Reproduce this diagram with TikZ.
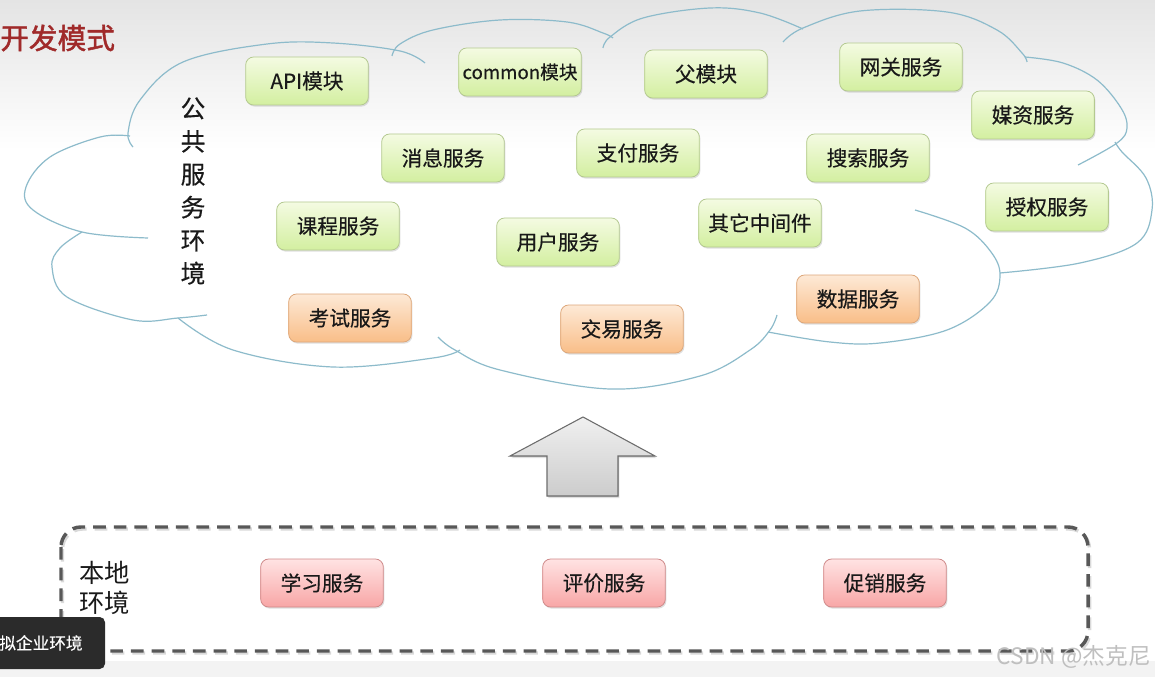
\documentclass[tikz,border=0pt]{standalone}
\usepackage{fontspec}
\setmainfont{Noto Sans CJK SC}
\newfontfamily\titlefont[FakeBold=1.6]{Noto Sans CJK SC}
\newfontfamily\boxfont[FakeBold=0.4]{Noto Sans CJK SC}
\usetikzlibrary{shadows}
\definecolor{bgtop}{HTML}{E4E4E4}
\definecolor{bgbot}{HTML}{F3F3F3}
\definecolor{titlered}{HTML}{A02A2A}
\definecolor{cloudc}{HTML}{8DBBCB}
\definecolor{gtop}{HTML}{F4FBE2}
\definecolor{gbot}{HTML}{D3EFA0}
\definecolor{gborder}{HTML}{B4C990}
\definecolor{otop}{HTML}{FDE9D6}
\definecolor{obot}{HTML}{F9BE88}
\definecolor{oborder}{HTML}{DDA77A}
\definecolor{ptop}{HTML}{FFE3E3}
\definecolor{pbot}{HTML}{F8A6A6}
\definecolor{pborder}{HTML}{CF8A8A}
\definecolor{darklabel}{HTML}{2B2B2B}
\definecolor{dashc}{HTML}{585858}
\definecolor{arrowborder}{HTML}{6E6E6E}
\tikzset{
  svcbox/.style={rounded corners=6pt, minimum width=92pt, minimum height=36pt, inner sep=0pt,
    line width=0.6pt, text=black!90, font=\boxfont\fontsize{15.5pt}{17pt}\selectfont,
    drop shadow={opacity=0.25, shadow xshift=0.8pt, shadow yshift=-1.2pt}},
  gbox/.style={svcbox, draw=gborder, top color=gtop, bottom color=gbot},
  obox/.style={svcbox, draw=oborder, top color=otop, bottom color=obot},
  pbox/.style={svcbox, draw=pborder, top color=ptop, bottom color=pbot},
  cloudline/.style={draw=cloudc, line width=0.9pt},
  lobe/.style={smooth, tension=0.6},
  dashbox/.style={line width=2.6pt, dash pattern=on 9.5pt off 6pt, rounded corners=15pt},
}
\begin{document}
\begin{tikzpicture}[x=0.75pt,y=-0.75pt]
\useasboundingbox (0,0) rectangle (1155,677);
\fill[white] (0,0) rectangle (1155,677);
\shade[top color=bgtop, bottom color=white] (0,0) rectangle (1155,150);
\fill[bgbot] (0,661) rectangle (1155,677);

% title
\node[anchor=west, text=titlered, inner sep=0pt, font=\titlefont\fontsize{21.5pt}{24pt}\selectfont] (title) at (0,38) {开发模式};

% cloud lobes
\draw[cloudline] plot[lobe] coordinates {(133,147) (128,133) (140,100) (183,62) (267,44) (333,43) (400,51) (425,63)};
\draw[cloudline] plot[lobe] coordinates {(392,56) (400,44) (433,30) (500,20) (567,22) (603,33) (613,38)};
\draw[cloudline] plot[lobe] coordinates {(603,48) (610,37) (643,18) (710,8) (760,13) (803,29)};
\draw[cloudline] plot[lobe] coordinates {(783,42) (803,28) (860,11) (947,12) (997,30) (1022,53) (1027,62)};
\draw[cloudline] plot[lobe] coordinates {(1025,57) (1063,63) (1097,80) (1121,108) (1127,128) (1117,143) (1078,165)};
\draw[cloudline] plot[lobe] coordinates {(1115,142) (1122,152) (1146,178) (1152,210) (1137,243) (1080,263) (1000,273)};
\draw[cloudline] plot[lobe] coordinates {(915,210) (965,228) (991,252) (1000,275) (990,302) (947,330) (880,343) (830,342) (768,332)};
\draw[cloudline] plot[lobe] coordinates {(438,337) (455,350) (500,370) (610,389) (700,376) (750,350) (770,330) (777,315)};
\draw[cloudline] plot[lobe] coordinates {(178,318) (233,350) (333,367) (433,358) (460,350)};
\draw[cloudline] plot[lobe] coordinates {(82,232) (60,248) (52,267) (67,297) (133,320) (178,318) (207,315)};
\draw[cloudline] plot[lobe] coordinates {(130,136) (100,137) (50,157) (26,187) (33,210) (82,232) (148,238)};

% vertical label
\node[align=center, text=black!90, inner sep=0pt, font=\boxfont\fontsize{18.5pt}{24.75pt}\selectfont] (pubenv) at (193,191) {公\\共\\服\\务\\环\\境};

% green boxes
\node[gbox] (api) at (307,81) {API模块};
\node[gbox, font=\boxfont\fontsize{14pt}{16pt}\selectfont] (common) at (520,72) {common模块};
\node[gbox] (parent) at (706,74) {父模块};
\node[gbox] (gateway) at (901,67) {网关服务};
\node[gbox] (media) at (1033,115) {媒资服务};
\node[gbox] (msg) at (443,158) {消息服务};
\node[gbox] (pay) at (638,153) {支付服务};
\node[gbox] (search) at (868,158) {搜索服务};
\node[gbox] (auth) at (1047,207) {授权服务};
\node[gbox] (course) at (338,226) {课程服务};
\node[gbox] (user) at (558,242) {用户服务};
\node[gbox] (middle) at (760,223) {其它中间件};
% orange boxes
\node[obox] (exam) at (350,318) {考试服务};
\node[obox] (trade) at (622,329) {交易服务};
\node[obox] (data) at (858,299) {数据服务};

% up arrow
\filldraw[draw=arrowborder, line width=0.8pt, top color=gray!12, bottom color=gray!40,
  drop shadow={opacity=0.25, shadow xshift=1pt, shadow yshift=-1.5pt}]
  (583,417) -- (655,456) -- (618,456) -- (618,496) -- (547,496) -- (547,456) -- (510,456) -- cycle;

% local environment dashed box (soft shadow, then the line)
\draw[dashbox, draw=black, opacity=0.15] (62.5,529) rectangle (1089.5,653);
\draw[dashbox, draw=dashc] (61,527) rectangle (1088,651);
\node[anchor=west, align=left, text=black!90, inner sep=0pt, font=\fontsize{19pt}{23pt}\selectfont] (localenv) at (79,588) {本地\\环境};

\node[pbox] (study) at (322,583) {学习服务};
\node[pbox] (review) at (604,583) {评价服务};
\node[pbox] (promo) at (885,583) {促销服务};

% dark overlay label
\fill[darklabel, rounded corners=4pt] (-10,617) rectangle (105,669);
\node[anchor=west, text=white, inner sep=0pt, font=\boxfont\fontsize{12.5pt}{14pt}\selectfont] (vlabel) at (-1,643) {拟企业环境};

% watermark
\node[anchor=east, text=gray!50, inner sep=0pt, font=\fontsize{17pt}{19pt}\selectfont] (wm) at (1151,657) {CSDN @杰克尼};
\end{tikzpicture}
\end{document}
